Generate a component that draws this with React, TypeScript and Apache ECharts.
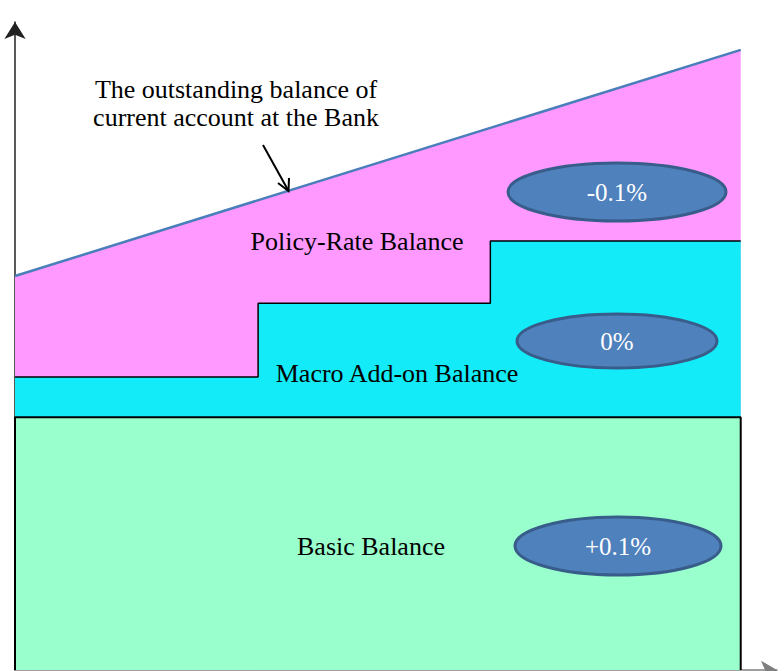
import React, { useEffect, useRef } from "react";
import * as echarts from "echarts";

// Outstanding balance of current account (top line of the pink area)
const policyX = [0, 100];
const policyY = [60.8, 95.7];

// Upper boundary of the Macro Add-on balance (step line)
const macroX = [0, 33.5, 65.5, 100];
const macroY = [45.2, 56.6, 66.2, 66.2];

// Basic balance block (outline)
const basicX = [0, 0, 100, 100];
const basicY = [0, 39.0, 39.0, 0];

const regionLabels = ["Policy-Rate Balance", "Macro Add-on Balance", "Basic Balance"];
const rateLabels = ["-0.1%", "0%", "+0.1%"];
const noteLines = ["The outstanding balance of", "current account at the Bank"];

const FONT = "'Liberation Serif', 'Times New Roman', serif";

const zip = (xs: number[], ys: number[]) => xs.map((x, i) => [x, ys[i]]);

export default function App() {
  const ref = useRef<HTMLDivElement>(null);
  useEffect(() => {
    if (!ref.current) return;
    const chart = echarts.init(ref.current, null, { renderer: "svg" });

    const ellipses = [
      { cx: 617, cy: 192, rx: 109, ry: 29 },
      { cx: 617, cy: 341, rx: 100, ry: 27 },
      { cx: 618, cy: 546, rx: 103, ry: 29 },
    ];

    const graphic: any[] = [];
    ellipses.forEach((e, i) => {
      graphic.push({
        type: "ellipse",
        shape: { cx: e.cx, cy: e.cy, rx: e.rx, ry: e.ry },
        style: { fill: "#4F81BD", stroke: "#385D8A", lineWidth: 3 },
        z: 100,
      });
      graphic.push({
        type: "text",
        x: e.cx,
        y: e.cy,
        style: {
          text: rateLabels[i],
          fill: "#ffffff",
          font: `25px ${FONT}`,
          textAlign: "center",
          textVerticalAlign: "middle",
        },
        z: 101,
      });
    });

    const labelPos = [
      { x: 357, y: 242 },
      { x: 397, y: 374 },
      { x: 371, y: 547 },
    ];
    regionLabels.forEach((t, i) => {
      graphic.push({
        type: "text",
        x: labelPos[i].x,
        y: labelPos[i].y,
        scaleX: 1.04,
        style: {
          text: t,
          fill: "#000000",
          font: `25px ${FONT}`,
          textAlign: "center",
          textVerticalAlign: "middle",
        },
        z: 100,
      });
    });

    noteLines.forEach((t, i) => {
      graphic.push({
        type: "text",
        x: 236,
        y: 90 + i * 28,
        scaleX: 1.04,
        style: {
          text: t,
          fill: "#000000",
          font: `25px ${FONT}`,
          textAlign: "center",
          textVerticalAlign: "middle",
        },
        z: 100,
      });
    });

    // pointer arrow
    graphic.push({
      type: "line",
      shape: { x1: 263, y1: 145, x2: 288, y2: 190 },
      style: { stroke: "#000", lineWidth: 2 },
      z: 100,
    });
    graphic.push({
      type: "polyline",
      shape: { points: [[278, 183], [288.5, 191], [289, 178]] },
      style: { stroke: "#000", lineWidth: 2, fill: null },
      z: 100,
    });

    chart.setOption({
      animation: false,
      grid: { left: 15, top: 22, width: 762, bottom: 1, containLabel: false },
      xAxis: {
        type: "value",
        min: 0,
        max: 105,
        axisLine: {
          show: true,
          symbol: ["none", "arrow"],
          symbolSize: [14, 16],
          lineStyle: { color: "#7F7F7F", width: 1.5 },
        },
        axisTick: { show: false },
        axisLabel: { show: false },
        splitLine: { show: false },
      },
      yAxis: {
        type: "value",
        min: 0,
        max: 100,
        axisLine: {
          show: true,
          symbol: ["none", "arrow"],
          symbolSize: [16, 17],
          lineStyle: { color: "#222222", width: 1.5 },
        },
        axisTick: { show: false },
        axisLabel: { show: false },
        splitLine: { show: false },
      },
      series: [
        {
          name: "Policy-Rate Balance",
          type: "line",
          data: zip(policyX, policyY),
          showSymbol: false,
          silent: true,
          lineStyle: { color: "#4A7EBB", width: 2.5 },
          areaStyle: { color: "#FF99FF", opacity: 1 },
          z: 1,
        },
        {
          name: "Macro Add-on Balance",
          type: "line",
          step: "end",
          data: zip(macroX, macroY),
          showSymbol: false,
          silent: true,
          lineStyle: { color: "#000000", width: 1.5 },
          areaStyle: { color: "#13EBF8", opacity: 1 },
          z: 2,
        },
        {
          name: "Basic Balance",
          type: "line",
          data: zip(basicX, basicY),
          showSymbol: false,
          silent: true,
          lineStyle: { color: "#000000", width: 2 },
          areaStyle: { color: "#99FFCC", opacity: 1 },
          z: 3,
        },
      ],
      graphic,
    });

    return () => chart.dispose();
  }, []);

  return <div ref={ref} style={{ width: 784, height: 671, position: "absolute", left: 0, top: 0 }} />;
}
